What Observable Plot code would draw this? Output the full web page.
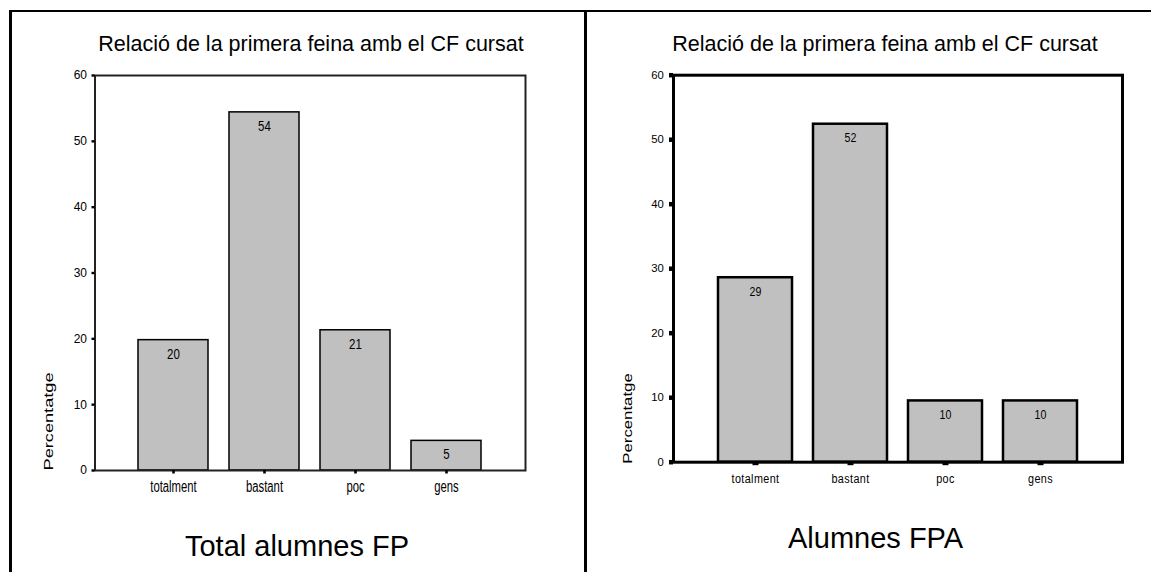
<!DOCTYPE html>
<html><head><meta charset="utf-8">
<script src="https://cdn.jsdelivr.net/npm/d3@7"></script>
<script src="https://cdn.jsdelivr.net/npm/@observablehq/plot@0.6"></script>
<style>
html,body{margin:0;padding:0;background:#fff;}
#page{position:relative;width:1151px;height:572px;overflow:hidden;font-family:"Liberation Sans",Arial,sans-serif;}
.line{position:absolute;background:#000;}
.t{position:absolute;white-space:nowrap;text-align:center;line-height:1;color:#000;width:600px;}
.chart{position:absolute;top:0;}
</style></head><body>
<div id="page">
  <div class="line" style="left:8.5px;top:9.5px;width:1142.5px;height:2.6px"></div>
  <div class="line" style="left:8.5px;top:9.5px;width:3px;height:563px"></div>
  <div class="line" style="left:584px;top:9.5px;width:2.8px;height:563px"></div>
  <div id="left" class="chart" style="left:0px"></div>
  <div id="right" class="chart" style="left:585px"></div>
  <div id="t1" class="t" style="left:11px;top:33.8px;font-size:21.5px"></div>
  <div id="t2" class="t" style="left:585px;top:33.8px;font-size:21.5px"></div>
  <div id="c1" class="t" style="left:-3px;top:531.5px;font-size:29px"></div>
  <div id="c2" class="t" style="left:575.6px;top:523.5px;font-size:29px"></div>
</div>
<script>
const categories = ["totalment", "bastant", "poc", "gens"];
const valuesFP = [19.8, 54.4, 21.3, 4.5];
const valuesFPA = [28.6, 52.4, 9.5, 9.5];
const yTicks = [0, 10, 20, 30, 40, 50, 60];
const chartTitle = "Relació de la primera feina amb el CF cursat";
const yLabel = "Percentatge";
const captionFP = "Total alumnes FP";
const captionFPA = "Alumnes FPA";

function stretchTexts(nodes, sx, sy) {
  nodes.forEach(t => {
    const tr = t.getAttribute("transform");
    if (tr && tr.includes("translate")) t.setAttribute("transform", tr + ` scale(${sx},${sy})`);
  });
}

function makeChart(values, o) {
  const data = categories.map((c, i) => ({cat: c, value: values[i]}));
  const svg = Plot.plot({
    width: o.width, height: o.height,
    marginLeft: o.ml, marginRight: o.mr, marginTop: o.mt, marginBottom: o.mb,
    style: {fontFamily: '"Liberation Sans", Arial, sans-serif', color: "#000", background: "transparent", overflow: "visible"},
    x: {domain: categories, paddingInner: o.pi, paddingOuter: o.po, label: null},
    y: {domain: [0, 60], label: null},
    marks: [
      Plot.barY(data, {x: "cat", y: "value", fill: "#c0c0c0", stroke: "#000", strokeWidth: o.barSW}),
      Plot.frame({stroke: o.frameColor, strokeWidth: o.frameSW}),
      Plot.axisY(yTicks, {tickSize: o.yTickSize, strokeWidth: o.yTickSW, tickPadding: o.yTickPad, fontSize: o.yFont, label: null}),
      Plot.axisX({tickSize: o.xTickSize, strokeWidth: o.xTickSW, tickPadding: o.xTickPad, fontSize: o.xFont, label: null}),
      Plot.text(data, {x: "cat", y: "value", text: d => String(Math.round(d.value)), dy: o.valDy, fontSize: o.valFont}),
      Plot.text([yLabel], {frameAnchor: "bottom-left", rotate: -90, textAnchor: "start", dx: o.ylDx, dy: o.ylDy, fontSize: o.ylFont})
    ]
  });
  stretchTexts(svg.querySelectorAll('g[aria-label="x-axis tick label"] text'), 1, o.xStretch);
  svg.querySelectorAll('g[aria-label="x-axis tick label"] text').forEach(t => t.style.letterSpacing = o.xLs + "px");
  const textGroups = svg.querySelectorAll('g[aria-label="text"]');
  if (textGroups[0]) stretchTexts(textGroups[0].querySelectorAll("text"), 1, o.valStretch);
  if (textGroups[1]) stretchTexts(textGroups[1].querySelectorAll("text"), o.ylStretch, 1);
  return svg;
}

document.getElementById("left").appendChild(makeChart(valuesFP, {
  width: 585, height: 520, ml: 94.5, mr: 60, mt: 75, mb: 50, pi: 0.23, po: 0.47,
  barSW: 1.5, frameColor: "#222", frameSW: 2,
  yTickSize: 3, yTickSW: 2.4, yTickPad: 5, yFont: 12,
  xTickSize: 3.5, xTickSW: 2.6, xTickPad: 6.5, xFont: 11.3, xStretch: 1.4, xLs: 0,
  valDy: 14, valFont: 11.5, valStretch: 1.2,
  ylDx: -42.5, ylDy: 0, ylFont: 13, ylStretch: 1.4
}));
document.getElementById("right").appendChild(makeChart(valuesFPA, {
  width: 566, height: 520, ml: 88, mr: 29, mt: 74.7, mb: 58.3, pi: 0.22, po: 0.465,
  barSW: 2.5, frameColor: "#000", frameSW: 3,
  yTickSize: 4, yTickSW: 4.5, yTickPad: 5.7, yFont: 11.3,
  xTickSize: 3.5, xTickSW: 6, xTickPad: 8, xFont: 10.8, xStretch: 1.25, xLs: 0.4,
  valDy: 14.2, valFont: 10.6, valStretch: 1.2,
  ylDx: -41.7, ylDy: 1.5, ylFont: 13, ylStretch: 1.29
}));
document.getElementById("t1").textContent = chartTitle;
document.getElementById("t2").textContent = chartTitle;
document.getElementById("c1").textContent = captionFP;
document.getElementById("c2").textContent = captionFPA;
</script>
</body></html>
